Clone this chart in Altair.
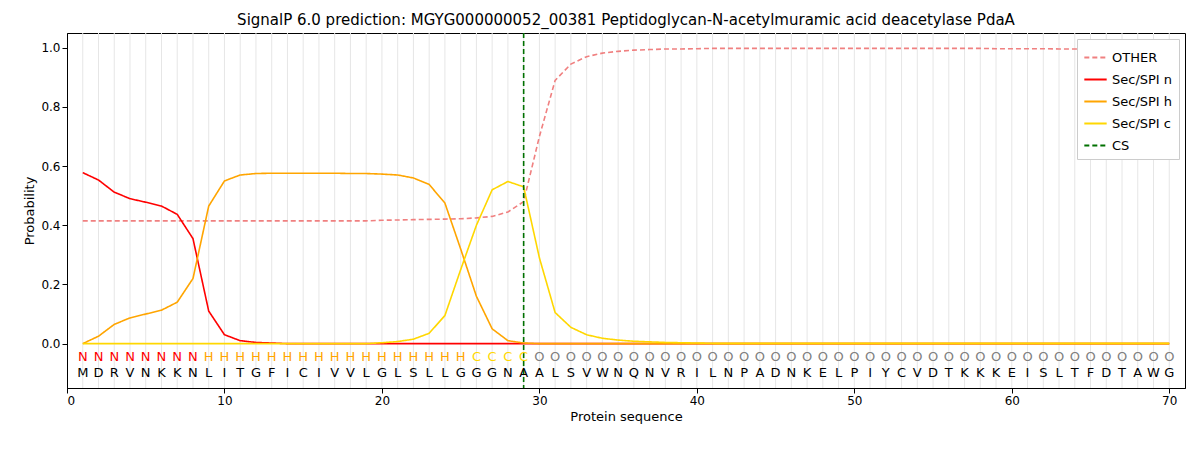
import pandas as pd
import altair as alt

sequence = "MDRVNKKNLITGFICIVVLGLSLLGGGNAALSVWNQNVRILNPADNKELPIYCVDTKKKEISLTFDTAWG"
region_labels = "N" * 8 + "H" * 17 + "C" * 4 + "O" * 41

other = [0.415] * 19 + [0.417, 0.418, 0.419, 0.42, 0.421, 0.422, 0.425, 0.43, 0.445, 0.48,
         0.70, 0.89, 0.945, 0.97, 0.982, 0.988, 0.992, 0.994, 0.996, 0.996, 0.997,
         0.998, 0.998, 0.998, 0.998, 0.998, 0.998, 0.998, 0.998, 0.998, 0.998,
         0.998, 0.998, 0.998, 0.998, 0.998, 0.998, 0.998, 0.998, 0.997, 0.997,
         0.997, 0.997, 0.996, 0.996, 0.995, 0.994, 0.993, 0.992, 0.991, 0.99]
sec_n = [0.578, 0.553, 0.512, 0.49, 0.478, 0.465, 0.437, 0.355, 0.11, 0.03,
         0.01, 0.004, 0.002] + [0.0] * 57
sec_h = [0.0, 0.025, 0.065, 0.087, 0.1, 0.113, 0.14, 0.22, 0.465, 0.55,
         0.57, 0.575, 0.576, 0.576, 0.576, 0.576, 0.576, 0.575, 0.575, 0.573,
         0.57, 0.56, 0.538, 0.475, 0.32, 0.16, 0.05, 0.01, 0.002] + [0.0] * 41
sec_c = [0.0] * 19 + [0.003, 0.007, 0.015, 0.035, 0.095, 0.25, 0.4, 0.52, 0.548, 0.53,
         0.29, 0.105, 0.055, 0.03, 0.018, 0.012, 0.008, 0.006, 0.004, 0.003, 0.002] + [0.001] * 30
cs_pos = 29

pos = list(range(1, 71))
series = {"OTHER": other, "Sec/SPI n": sec_n, "Sec/SPI h": sec_h, "Sec/SPI c": sec_c}
rows = []
for name, vals in series.items():
    for p, v in zip(pos, vals):
        rows.append({"pos": p, "prob": v, "series": name})
df = pd.DataFrame(rows)

domain = ["OTHER", "Sec/SPI n", "Sec/SPI h", "Sec/SPI c", "CS"]
colors = ["#f08080", "#ff0000", "#ffa500", "#ffd700", "#007000"]
color = alt.Color("series:N", scale=alt.Scale(domain=domain, range=colors),
                  legend=alt.Legend(title=None, orient="top-right", offset=6, fillColor="white",
                                    strokeColor="#cccccc", padding=6, labelFontSize=13,
                                    symbolType="stroke", symbolStrokeWidth=2, symbolSize=500))
dash = alt.StrokeDash("series:N", scale=alt.Scale(domain=domain,
                      range=[[5, 3], [1, 0], [1, 0], [1, 0], [5, 3]]), legend=None)

x = alt.X("pos:Q", title="Protein sequence", scale=alt.Scale(domain=[0, 71], nice=False),
          axis=alt.Axis(values=list(range(0, 71, 10)), grid=False))

grid = alt.Chart(pd.DataFrame({"pos": pos})).mark_rule(color="#e6e6e6").encode(x=x)

lines = alt.Chart(df).mark_line(strokeWidth=1.6).encode(
    x=x,
    y=alt.Y("prob:Q", title="Probability", scale=alt.Scale(domain=[-0.15, 1.05], nice=False),
            axis=alt.Axis(values=[0, 0.2, 0.4, 0.6, 0.8, 1.0], format=".1f", grid=False)),
    color=color, strokeDash=dash)

cs = alt.Chart(pd.DataFrame({"pos": [cs_pos], "series": ["CS"]})).mark_rule(strokeWidth=1.6).encode(
    x=x, color=color, strokeDash=dash)

lab_colors = {"N": "#ff0000", "H": "#ffa500", "C": "#ffd700", "O": "#808080"}
tdf = pd.DataFrame({"pos": pos, "res": list(sequence), "reg": list(region_labels),
                    "col": [lab_colors[r] for r in region_labels]})
reg_text = alt.Chart(tdf).mark_text(fontSize=13).encode(
    x=x, y=alt.value(324), text="reg:N", color=alt.Color("col:N", scale=None))
res_text = alt.Chart(tdf).mark_text(fontSize=13, color="black").encode(
    x=x, y=alt.value(340), text="res:N")

chart = alt.layer(grid, lines, cs, reg_text, res_text).properties(
    width=1118, height=355, padding={"left": 15, "top": 5, "right": 5, "bottom": 5},
    title=alt.Title("SignalP 6.0 prediction: MGYG000000052_00381 Peptidoglycan-N-acetylmuramic acid deacetylase PdaA",
                    fontSize=15, fontWeight="normal"),
).configure_view(stroke="black").configure_axis(
    domainColor="black", tickColor="black", labelFontSize=12, titleFontSize=13,
    titleFontWeight="normal", labelFont="DejaVu Sans", titleFont="DejaVu Sans"
).configure_title(font="DejaVu Sans").configure_text(font="DejaVu Sans").configure_legend(
    labelFont="DejaVu Sans")

chart.save("out.html", embed_options={"renderer": "svg", "actions": False})
